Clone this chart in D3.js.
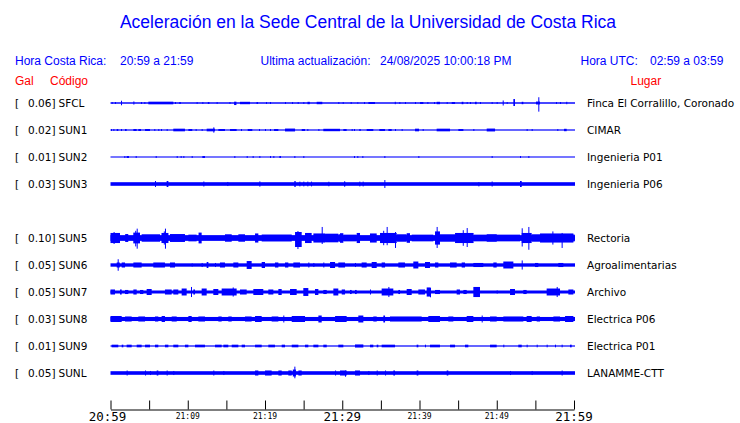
<!DOCTYPE html>
<html>
<head>
<meta charset="utf-8">
<script src="https://cdn.jsdelivr.net/npm/d3@7"></script>
<style>
  body { margin: 0; background: #fff; }
  svg { display: block; }
</style>
</head>
<body>
<script>
// page size
var width = 740;
var height = 423;

// stations, in display order ("" marks the empty slot)
var rowOrder = ["SFCL", "SUN1", "SUN2", "SUN3", "", "SUN5", "SUN6", "SUN7", "SUN8", "SUN9", "SUNL"];
var codes = ["SFCL", "SUN1", "SUN2", "SUN3", "SUN5", "SUN6", "SUN7", "SUN8", "SUN9", "SUNL"];
var gals = ["0.06", "0.02", "0.01", "0.03", "0.10", "0.05", "0.05", "0.03", "0.01", "0.05"];
var places = ["Finca El Corralillo, Coronado", "CIMAR", "Ingenieria P01", "Ingenieria P06",
  "Rectoria", "Agroalimentarias", "Archivo", "Electrica P06", "Electrica P01", "LANAMME-CTT"];

// background noise level of each trace (fraction of row half-height)
var baseAmp = [0.06, 0.05, 0.045, 0.15, 0.24, 0.14, 0.125, 0.17, 0.05, 0.15];

// bursts: [start minute, end minute, amplitude up, amplitude down]
var sfcl = [[0.15,0.15,.08],[0.58,0.58,.08],[1.36,1.36,.19],[2.96,2.96,.13],[3.95,3.95,.08],[4.38,4.38,.08],
  [4.9,8.13,.11],[8.35,8.35,.08],[8.9,9.1,.08],[11.15,11.15,.08],[11.89,11.89,.08],[12.6,12.8,.08],[13.74,13.74,.08],
  [15.4,15.5,.08],[16.0,16.3,.11,.17],[16.76,18.06,.1],[18.9,19.1,.08],[20.13,20.13,.08],[20.65,20.65,.08],
  [22.59,22.59,.08],[23.5,23.6,.08],[24.23,24.23,.08],[24.96,24.96,.08],[25.5,25.8,.1],[26.69,27.42,.1],
  [29.49,29.49,.08],[30.06,30.14,.08],[31.09,31.09,.08],[31.95,31.95,.06],[32.82,32.82,.08],[33.38,34.24,.08],
  [36.8,36.9,.1],[37.39,37.39,.08],[38.12,38.12,.08],[39.42,39.42,.08],[40.07,40.5,.08],[41.02,41.02,.08],
  [41.88,41.88,.08],[42.22,42.65,.1],[43.52,43.52,.08],[44.17,44.6,.08],[45.46,45.68,.1],[46.11,46.11,.08],
  [46.54,46.54,.08],[47.19,47.4,.1],[47.83,47.83,.08],[49.34,49.34,.08],[49.99,49.99,.08],[50.77,50.77,.21],
  [51.29,51.29,.08],[52.15,52.36,.33,.25],[53.23,53.44,.1],[55.08,55.6,.12],[55.38,55.38,.48,.72],
  [57.67,57.67,.08],[58.19,58.19,.08],[59.0,59.1,.1]];
var sun1 = [[0.06,0.06,.08],[0.37,0.37,.08],[0.8,1.01,.08],[1.36,1.36,.08],[1.88,2.09,.08],[2.96,3.39,.08],
  [3.6,3.95,.08],[4.47,5.11,.08],[5.67,5.67,.08],[6.19,6.19,.08],[6.54,6.54,.08],[7.27,7.27,.08],[8.13,9.64,.11],
  [10.08,10.59,.08],[11.02,11.02,.08],[11.8,11.8,.08],[12.45,13.53,.11],[13.31,13.31,.22],[13.96,14.82,.08],
  [15.47,16.33,.08],[16.89,16.89,.08],[17.76,18.36,.08],[19.22,19.22,.08],[20.0,20.0,.08],[20.65,20.65,.08],
  [21.17,21.73,.08],[22.59,23.89,.12],[24.75,25.18,.08],[25.48,25.48,.08],[26.91,26.91,.08],[27.55,29.71,.1],
  [30.14,30.57,.08],[31.22,31.22,.08],[31.52,31.52,.08],[32.21,32.39,.08],[33.16,34.02,.08],[34.8,35.54,.08],
  [35.97,36.4,.08],[36.83,36.83,.08],[37.69,37.69,.08],[39.42,39.94,.11],[40.41,40.41,.08],[42.22,43.95,.11],
  [45.03,45.68,.08],[46.97,46.97,.08],[48.7,49.78,.12],[53.87,53.87,.08],[54.52,54.52,.08],[57.84,57.84,.08],
  [58.71,59.05,.1]];
var sun2 = [[1.79,1.79,.08],[2.09,2.39,.08],[3.26,3.26,.08],[5.85,5.85,.08],[8.57,8.57,.08],[9.08,9.08,.08],
  [9.43,9.43,.08],[10.51,10.51,.08],[11.89,12.23,.08],[16.03,16.03,.08],[17.63,17.63,.08],[18.4,18.4,.08],
  [19.27,19.27,.08],[20.65,20.65,.08],[21.08,21.08,.08],[21.86,22.07,.08],[23.8,23.89,.08],[24.96,24.96,.08],
  [31.52,31.52,.08],[31.95,31.95,.08],[32.6,32.6,.08],[35.45,35.45,.08],[39.85,39.85,.08],[49.34,49.34,.08],
  [53.01,53.01,.08],[54.09,54.09,.08]];
var sun3 = [[5.76,5.76,.25],[7.27,7.49,.25],[12.02,12.02,.21],[15.12,15.12,.17],[19.27,19.4,.22],[23.8,23.97,.25],
  [24.45,24.45,.2],[24.96,24.96,.2],[25.48,25.48,.2],[25.96,25.96,.2],[28.2,28.2,.19],[30.27,30.27,.2],
  [30.23,30.23,.21],[32.21,32.21,.2],[32.64,32.64,.2],[35.45,35.45,.33],[47.62,47.62,.15,.2],[49.34,49.34,.21],
  [53.01,53.23,.25]];
var sun5 = [[0,1.23,.42],[0.4,0.4,.5],[1.9,2.3,.33],[2.95,3.82,.45],[3.39,3.39,.78,.89],[3.2,3.2,.6,.7],[4.03,6.41,.31],
  [6.6,7.5,.42],[7.05,7.05,.78,.89],[6.9,6.9,.55],[7.7,9.64,.33],[10.08,11.15,.28],[11.4,11.8,.45],[14.82,15.69,.31],
  [16.55,17.41,.31],[18.71,19.14,.38],[19.57,23.46,.29],[23.89,24.75,.5,.75],[24.2,24.2,.58,.92],[25.18,26.04,.42],
  [26.26,27.77,.38],[27.34,27.42,.92,.5],[27.77,29.49,.36],[29.49,29.71,.31],[29.71,30.14,.4],[30.14,31.87,.28],
  [31.87,32.3,.42],[33.59,34.46,.38],[34.89,37.05,.42],[35.75,35.75,.92,.6],[36.83,36.83,.5,.83],[35.3,35.3,.6],
  [37.05,38.34,.31],[38.34,38.77,.4],[38.99,41.79,.28],[42.01,42.65,.55],[42.22,42.22,.92,.83],[42.65,44.6,.31],
  [44.6,47.0,.42],[46.11,46.11,.83,.75],[45.6,45.6,.65],[47.0,53.01,.28],[48.7,50.0,.31],[53.23,54.52,.42],
  [53.23,53.23,.81,.71],[54.09,54.09,.92,.98],[54.52,55.6,.31],[55.6,59.92,.38],[57.2,57.2,.55],[58.4,58.4,.42,.83],
  [59.92,60,.31]];
var sun6 = [[0.8,1.2,.21],[0.93,0.93,.48],[1.45,1.88,.21],[2.96,4.03,.21],[5.54,7.05,.21],[7.7,8.35,.21],
  [10.51,10.51,.13],[11.8,11.8,.17],[12.45,12.67,.25],[13.53,13.53,.17],[14.17,14.82,.21],[15.9,16.55,.21],
  [17.63,18.27,.33],[19.57,20.0,.25],[21.29,21.73,.21],[22.59,23.02,.21],[23.67,24.53,.21],[25.61,25.61,.21],
  [26.26,26.26,.17],[27.55,27.55,.21],[28.42,29.07,.25],[29.49,30.36,.21],[31.65,31.65,.17],[32.51,33.16,.21],
  [33.81,34.46,.25],[35.1,35.54,.21],[37.26,38.12,.21],[39.2,39.85,.29],[40.71,41.36,.25],[42.01,42.44,.21],
  [43.95,44.81,.21],[45.46,45.89,.21],[46.97,48.26,.17],[49.56,49.99,.21],[50.85,52.15,.29],[53.23,53.23,.38],
  [54.95,55.38,.17],[57.97,58.62,.17]];
var sun7 = [[0,0.58,.21],[1.23,1.45,.21],[1.88,2.31,.17],[2.96,3.39,.21],[3.82,4.25,.17],[4.68,5.33,.25],
  [7.05,7.92,.21],[8.13,8.78,.21],[9.21,9.86,.29],[10.42,10.42,.42],[10.72,10.94,.21],[11.8,12.45,.29],
  [13.31,13.96,.25],[14.39,16.33,.29],[15.82,15.82,.38],[16.76,17.63,.21],[18.49,19.78,.25],[20.43,21.08,.21],
  [21.73,22.16,.25],[23.24,24.1,.25],[24.96,25.61,.33],[26.47,26.91,.25],[27.55,27.99,.17],[28.85,29.49,.29],
  [29.93,30.36,.21],[31.0,31.22,.17],[31.65,31.87,.17],[33.59,33.59,.21],[35.1,36.61,.29],[35.97,35.97,.42],
  [37.26,37.48,.17],[38.34,38.99,.25],[39.85,40.71,.21],[40.93,41.45,.38],[41.36,41.36,.33,.44],[42.01,42.65,.17],
  [44.81,45.24,.21],[45.68,46.11,.17],[46.97,47.83,.42],[49.99,49.99,.13],[51.72,52.36,.25],[53.44,53.87,.17],
  [56.46,58.19,.29],[57.76,57.76,.42],[59.27,59.92,.21]];
var sun8 = [[0,1.45,.25],[1.88,2.74,.21],[3.6,4.47,.21],[5.76,6.19,.21],[6.62,7.05,.25],[7.92,8.57,.21],
  [10.08,10.51,.25],[11.37,12.23,.21],[13.96,14.39,.21],[15.25,15.69,.21],[17.41,18.27,.21],[18.71,19.57,.25],
  [20.86,21.73,.21],[22.37,22.37,.29],[23.46,25.18,.25],[26.91,27.34,.29],[29.07,30.57,.25],[32.08,32.73,.29],
  [34.02,34.46,.21],[35.32,35.54,.29],[36.18,40.28,.21],[41.14,42.65,.25],[43.73,44.38,.21],[46.11,46.97,.25],
  [48.05,48.05,.29],[49.13,49.99,.21],[50.85,53.44,.21],[53.87,54.52,.25],[55.17,55.6,.21],[57.33,58.19,.21],
  [58.84,59.92,.25]];
var sun9 = [[0.15,1.01,.11],[1.45,1.66,.11],[2.09,2.74,.11],[3.39,4.03,.11],[4.47,5.11,.11],[5.76,6.19,.11],
  [7.05,7.49,.11],[8.13,8.78,.11],[9.64,10.08,.11],[10.94,12.23,.11],[13.53,14.39,.11],[14.61,15.25,.11],
  [15.69,16.55,.11],[16.98,17.41,.11],[18.71,19.57,.11],[20.43,21.29,.11],[22.16,22.59,.11],[23.46,24.32,.11],
  [25.18,25.61,.11],[26.26,26.91,.11],[27.55,27.99,.11],[29.49,30.14,.11],[31.65,32.73,.13],[33.59,34.02,.11],
  [34.46,34.67,.11],[35.1,36.83,.11],[39.63,39.85,.11],[40.71,40.71,.11],[41.36,42.65,.11],[43.95,44.6,.11],
  [45.89,46.32,.11],[49.13,49.99,.11],[50.85,50.85,.11],[52.79,53.23,.11],[53.87,53.87,.11],[55.17,55.17,.11],
  [56.46,56.46,.11],[57.54,57.54,.11],[58.4,58.4,.11],[59.48,59.7,.11]];
var sunl = [[2.09,2.09,.21],[4.47,4.47,.21],[5.11,5.11,.17],[5.98,6.19,.21],[7.27,7.27,.21],[8.13,8.13,.17],
  [13.31,13.31,.21],[14.61,14.61,.17],[18.71,19.14,.21],[20.0,20.86,.21],[21.73,22.16,.21],[23.02,23.46,.21],
  [23.6,24.0,.29],[23.8,23.8,.53,.44],[24.32,24.75,.21],[29.07,29.07,.21],[29.71,30.57,.21],[30.36,30.36,.21,.31],
  [31.65,32.3,.21],[33.38,33.38,.17],[34.46,34.46,.21],[35.54,35.54,.21],[36.61,36.83,.21],[39.63,39.85,.21],
  [43.52,43.73,.21],[51.72,51.72,.17],[54.52,54.52,.17],[58.4,58.4,.21]];
var bursts = [sfcl, sun1, sun2, sun3, sun5, sun6, sun7, sun8, sun9, sunl];

// time axis
var tickMinutes = d3.range(0, 61, 5);
var labelMinutes = [0, 10, 20, 30, 40, 50, 60];
var tickLabels = ["20:59", "21:09", "21:19", "21:29", "21:39", "21:49", "21:59"];

var stations = codes.map(function(c, i) {
  return { code: c, gal: gals[i], place: places[i], base: baseAmp[i], bursts: bursts[i] };
});

var x = d3.scaleLinear().domain([0, 60]).range([110.5, 574]);
var y = d3.scalePoint().domain(rowOrder).range([103, 373]);
var amp = d3.scaleLinear().domain([0, 1]).range([0, 12]);

var blue = "#0000ff";
var red = "#ff0000";

var svg = d3.select("body").append("svg")
  .attr("width", width)
  .attr("height", height);

// header
svg.append("text")
  .attr("x", 368).attr("y", 28)
  .attr("text-anchor", "middle")
  .style("font", "17.5px 'Liberation Sans', Arial, sans-serif")
  .style("fill", blue)
  .text("Aceleración en la Sede Central de la Universidad de Costa Rica");

var header = [
  ["Hora Costa Rica:", 15, 64.5, blue], ["20:59 a 21:59", 120, 64.5, blue],
  ["Ultima actualización:", 260.5, 64.5, blue], ["24/08/2025 10:00:18 PM", 380, 64.5, blue],
  ["Hora UTC:", 580.5, 64.5, blue], ["02:59 a 03:59", 650, 64.5, blue],
  ["Gal", 15, 84.5, red], ["Código", 50, 84.5, red], ["Lugar", 630.5, 84.5, red]
];
svg.selectAll("text.hdr")
  .data(header)
  .enter().append("text")
  .attr("class", "hdr")
  .attr("x", function(d) { return d[1]; })
  .attr("y", function(d) { return d[2]; })
  .style("font", "12px 'Liberation Sans', Arial, sans-serif")
  .style("fill", function(d) { return d[3]; })
  .text(function(d) { return d[0]; });

// one row per station
var rows = svg.selectAll("g.row")
  .data(stations)
  .enter().append("g")
  .attr("class", "row")
  .attr("transform", function(d) { return "translate(0," + y(d.code) + ")"; });

var labelFont = "10.5px 'DejaVu Sans', sans-serif";

rows.append("text").attr("x", 15).attr("y", 4)
  .style("font", labelFont).text("[");
rows.append("text").attr("x", 55.5).attr("y", 4)
  .attr("text-anchor", "end")
  .style("font", labelFont)
  .text(function(d) { return d.gal + "]"; });
rows.append("text").attr("x", 58.5).attr("y", 4)
  .style("font", labelFont)
  .text(function(d) { return d.code; });
rows.append("text").attr("x", 587).attr("y", 4)
  .style("font", labelFont)
  .text(function(d) { return d.place; });

// traces: noise band plus bursts
rows.append("rect")
  .attr("x", x(0))
  .attr("width", x(60) - x(0) + 1)
  .attr("y", function(d) { return -amp(d.base); })
  .attr("height", function(d) { return Math.max(1, 2 * amp(d.base)); })
  .style("fill", blue);

rows.selectAll("rect.burst")
  .data(function(d) { return d.bursts; })
  .enter().append("rect")
  .attr("class", "burst")
  .attr("x", function(b) { return x(b[0]); })
  .attr("width", function(b) { return Math.max(1, x(b[1]) - x(b[0])); })
  .attr("y", function(b) { return -amp(b[2]); })
  .attr("height", function(b) { return amp(b[2]) + amp(b.length > 3 ? b[3] : b[2]); })
  .style("fill", blue);

// time axis at the bottom
var axisG = svg.append("g")
  .attr("transform", "translate(0,409.5)")
  .call(d3.axisBottom(x).tickValues(tickMinutes).tickSizeInner(-9).tickSizeOuter(0).tickFormat(""));
axisG.select(".domain").attr("stroke", "#000");
axisG.selectAll(".tick line").attr("stroke", "#000");

svg.selectAll("text.tl")
  .data(labelMinutes)
  .enter().append("text")
  .attr("class", "tl")
  .attr("x", function(d, i) { return x(d) - (i === 0 ? 3 : 0); })
  .attr("y", function(d) { return d % 30 === 0 ? 421 : 418.5; })
  .attr("text-anchor", "middle")
  .style("font-family", "'DejaVu Sans Mono', monospace")
  .style("font-size", function(d) { return d % 30 === 0 ? "12.5px" : "8px"; })
  .text(function(d, i) { return tickLabels[i]; });
</script>
</body>
</html>
